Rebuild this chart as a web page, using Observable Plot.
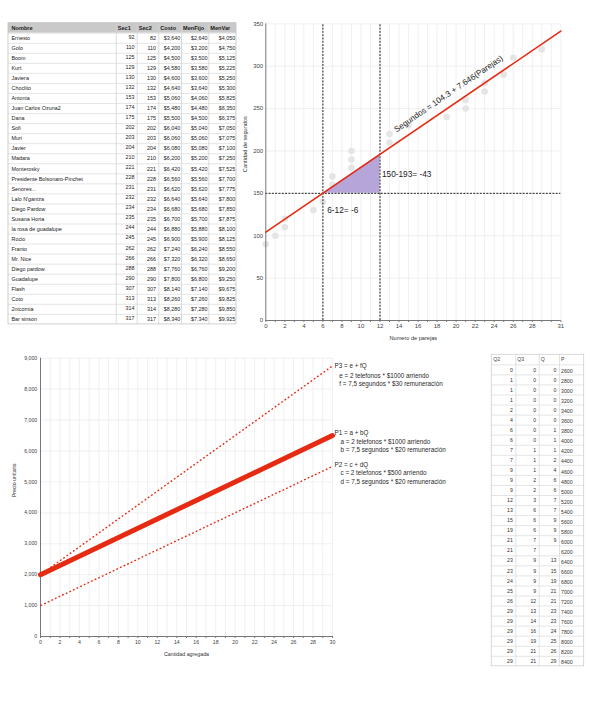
<!DOCTYPE html>
<html><head><meta charset="utf-8">
<script src="https://cdn.jsdelivr.net/npm/d3@7"></script>
<script src="https://cdn.jsdelivr.net/npm/@observablehq/plot@0.6"></script>
<style>
html,body{margin:0;padding:0;background:#fff;}
#root{position:relative;width:600px;height:708px;overflow:hidden;background:#fff;}
.panel{position:absolute;}
.panel svg{display:block;overflow:visible;max-width:none;}
</style></head>
<body><div id="root">
<div class="panel" id="tblTop" style="left:0;top:0;width:240px;height:340px"></div>
<div class="panel" id="chartTop" style="left:240px;top:0;width:360px;height:350px"></div>
<div class="panel" id="chartBottom" style="left:0;top:345px;width:490px;height:330px"></div>
<div class="panel" id="tblBottom" style="left:488px;top:345px;width:112px;height:330px"></div>
</div>
<script>
// ---------- DATA ----------
const topHeaders = ["Nombre","Sec1","Sec2","Costo","MenFijo","MenVar"];
const nombres = ["Ernesto","Golo","Boom","Kurt","Javiera","Choclito","Antonia","Juan Carlos Ozuna2","Dana","Sofi","Muri","Javier","Madara","Monterosky","Presidente Bolsonaro-Pinchet","Senores...","Lalo N'ganiza","Diego Pardow","Susana Horia","la rosa de guadalupe","Rocio","Franto","Mr. Nice","Diego pardow","Guadalupe","Flash","Coto","2nicornia","Bar sinson"];
const sec1 = [92,110,125,129,130,132,153,174,175,202,203,204,210,221,228,231,232,234,235,244,245,262,266,288,290,307,313,314,317];
const sec2 = [82,110,125,129,130,132,153,174,175,202,203,204,210,221,228,231,232,234,235,244,245,262,266,288,290,307,313,314,317];
const costo = [3640,4200,4500,4580,4600,4640,5060,5480,5500,6040,6060,6080,6200,6420,6560,6620,6640,6680,6700,6880,6900,7240,7320,7760,7800,8140,8260,8280,8340];
const menFijo = [2640,3200,3500,3580,3600,3640,4060,4480,4500,5040,5060,5080,5200,5420,5560,5620,5640,5680,5700,5880,5900,6240,6320,6760,6800,7140,7260,7280,7340];
const menVar = [4050,4750,5125,5225,5250,5300,5825,6350,6375,7050,7075,7100,7250,7525,7700,7775,7800,7850,7875,8100,8125,8550,8650,9200,9250,9675,9825,9850,9925];

const parejas  = [0,1,2,2,5,6,7,7,9,9,9,13,13,15,19,21,21,23,23,25,26,29];
const segundos = [90,100,110,120,130,140,160,170,180,190,200,210,220,230,240,250,260,270,280,290,310,320];
const regX = [0, 31];
const regY = [104.3, 341.3];
const triX = [6, 12];
const triTop = [150.2, 196];
const triBase = 150;
const guideX = [6, 12];
const guideY = [150];
const eqLabel = "Segundos = 104.3 + 7.646(Parejas)";
const diffLabels = ["150-193= -43", "6-12= -6"];

const cantidad = [0, 30];
const p1 = [2000, 6500];
const p2 = [1000, 5500];
const p3 = [2000, 8750];
const pTitles = ["P3 = e + fQ", "P1 = a + bQ", "P2 = c + dQ"];
const pDetails = [
  ["e = 2 telefonos * $1000 arriendo", "f = 7,5 segundos * $30 remuneración"],
  ["a = 2 telefonos * $1000 arriendo", "b = 7,5 segundos * $20 remuneración"],
  ["c = 2 telefonos * $500 arriendo", "d = 7,5 segundos * $20 remuneración"]
];

const botHeaders = ["Q2","Q3","Q","P"];
const q2 = [0,1,1,1,2,4,6,6,7,7,9,9,9,12,13,15,19,21,21,23,23,24,25,26,29,29,29,29,29,29];
const q3 = [0,0,0,0,0,0,0,0,1,1,1,2,2,3,6,6,6,7,7,9,9,9,9,12,13,14,16,19,21,21];
const q  = [0,0,0,0,0,0,1,1,1,2,4,6,6,7,7,9,9,9,null,13,15,19,21,21,23,23,24,25,26,29];
const pP = [2600,2800,3000,3200,3400,3600,3800,4000,4200,4400,4600,4800,5000,5200,5400,5600,5800,6000,6200,6400,6600,6800,7000,7200,7400,7600,7800,8000,8200,8400];

// ---------- STYLE ----------
const FONT = "'Liberation Sans', Arial, Helvetica, sans-serif";
const RED = "#e52b12";
const baseStyle = {fontFamily: FONT, background: "transparent", overflow: "visible"};
const money = d3.format("$,");
const thousands = d3.format(",");
const plain = d => d == null ? "" : String(d);

// ---------- TOP-LEFT TABLE ----------
{
  const E = [8, 115.7, 136.7, 158.3, 181, 208.3, 236];
  const n = nombres.length + 1;
  const top = 22.7, rh = 10.04;
  const numCols = [sec1, sec2, costo, menFijo, menVar];
  const fmts = [plain, plain, money, money, money];
  const pads = [2.7, 2.7, 1.2, 1.2, 1.2];
  const plot = Plot.plot({
    width: 240, height: 340, margin: 0,
    x: {type: "identity", axis: null},
    y: {domain: [0, n], range: [top, top + n * rh], axis: null},
    style: baseStyle,
    marks: [
      Plot.rect([0], {x1: E[0], x2: E[6], y1: 0, y2: 1, fill: "#c9c9c9"}),
      Plot.ruleY(d3.range(1, n), {x1: E[0], x2: E[6], stroke: "#dedede", strokeWidth: 0.8}),
      Plot.ruleX(E.slice(1, 6), {y1: 0, y2: n, stroke: "#d4d4d4", strokeWidth: 0.8}),
      Plot.rect([0], {x1: E[0], x2: E[6], y1: 0, y2: n, fill: "none", stroke: "#c4c4c4", strokeWidth: 0.8}),
      Plot.text(topHeaders, {x: (d, i) => E[i] + (i === 0 ? 3 : 1.5), y: 0.5, text: d => d, textAnchor: "start", fontWeight: "bold", fontSize: 5.6, fill: "#1a1a1a"}),
      Plot.text(nombres, {x: E[0] + 3, y: (d, i) => i + 1.5, text: d => d, textAnchor: "start", fontSize: 5.4, fill: "#222"}),
      ...numCols.map((arr, j) => Plot.text(arr, {
        x: E[j + 2] - pads[j], y: (d, i) => i + 1.5, dy: j === 0 ? -1.3 : 0,
        text: fmts[j], textAnchor: "end", fontSize: 5.4, fill: "#222"
      }))
    ]
  });
  document.getElementById("tblTop").append(plot);
}

// ---------- TOP-RIGHT SCATTER ----------
{
  const pts = parejas.map((x, i) => ({x, y: segundos[i]}));
  const reg = regX.map((x, i) => ({x, y: regY[i]}));
  const tri = triX.map((x, i) => ({x, y: triTop[i]}));
  const plot = Plot.plot({
    width: 360, height: 350,
    marginLeft: 25.3, marginRight: 39.7, marginTop: 23.3, marginBottom: 30,
    x: {domain: [0, 31]},
    y: {domain: [0, 350]},
    style: baseStyle,
    marks: [
      Plot.gridX({ticks: d3.range(1, 32), stroke: "#ececec", strokeOpacity: 1, strokeWidth: 0.8}),
      Plot.gridY({ticks: d3.range(50, 351, 50), stroke: "#ececec", strokeOpacity: 1, strokeWidth: 0.8}),
      Plot.dot(pts, {x: "x", y: "y", r: 3.3, fill: "#e5e5e5"}),
      Plot.areaY(tri, {x: "x", y1: triBase, y2: "y", fill: "#b6a5d8", fillOpacity: 1}),
      Plot.ruleX(guideX, {y1: 0, y2: 350, stroke: "#222", strokeWidth: 1, strokeDasharray: "2,1.3"}),
      Plot.ruleY(guideY, {x1: 0, x2: 31, stroke: "#222", strokeWidth: 1, strokeDasharray: "2,1.3"}),
      Plot.ruleX([0], {stroke: "#777"}),
      Plot.ruleY([0], {stroke: "#777"}),
      Plot.line(reg, {x: "x", y: "y", stroke: RED, strokeWidth: 1.6}),
      Plot.text([eqLabel], {x: 19.2, y: 267.5, rotate: -34.3, fontSize: 8.2, fill: "#222"}),
      Plot.text([diffLabels[0]], {x: 12.2, y: 172, textAnchor: "start", fontSize: 8.3, fill: "#222"}),
      Plot.text([diffLabels[1]], {x: 6.45, y: 130.5, textAnchor: "start", fontSize: 8.3, fill: "#222"}),
      Plot.axisY({ticks: d3.range(0, 351, 50), tickSize: 0, tickPadding: 2.6, fontSize: 6, fill: "#444", label: null}),
      Plot.axisX({ticks: d3.range(0, 32), tickFormat: d => ((d <= 28 && d % 2 === 0) || d === 31) ? d : "", tickSize: 2, tickPadding: 0.8, fontSize: 6, fill: "#444", stroke: "#777", label: null}),
      Plot.text(["Numero de parejas"], {frameAnchor: "bottom", dy: 19.5, fontSize: 5.6, fill: "#333"}),
      Plot.text(["Cantidad de segundos"], {frameAnchor: "left", dx: -21, rotate: -90, fontSize: 5.6, fill: "#333"})
    ]
  });
  document.getElementById("chartTop").append(plot);
}

// ---------- BOTTOM-LEFT PRICE CHART ----------
{
  const mk = arr => cantidad.map((x, i) => ({x, y: arr[i]}));
  const series = [mk(p3), mk(p1), mk(p2)];
  const offs = [
    {dy: [-0.4, 9.6, 18.3], dx: [2, 6.7, 6.7]},
    {dy: [-2.3, 6, 14.7], dx: [2, 8, 8]},
    {dy: [-1.7, 7, 15.7], dx: [2, 8, 8]}
  ];
  const annMarks = [];
  series.forEach((s, k) => {
    const end = s[s.length - 1];
    const lines = [pTitles[k], ...pDetails[k]];
    lines.forEach((t, j) => {
      annMarks.push(Plot.text([t], {x: end.x, y: end.y, dx: offs[k].dx[j], dy: offs[k].dy[j], textAnchor: "start", fontSize: 6.3, fill: "#2a2a2a"}));
    });
  });
  const plot = Plot.plot({
    width: 490, height: 330,
    marginLeft: 40, marginRight: 158, marginTop: 12.7, marginBottom: 39,
    x: {domain: [0, 30]},
    y: {domain: [0, 9000]},
    style: baseStyle,
    marks: [
      Plot.gridX({ticks: d3.range(1, 31), stroke: "#ececec", strokeOpacity: 1, strokeWidth: 0.8}),
      Plot.gridY({ticks: d3.range(1000, 9001, 1000), stroke: "#ececec", strokeOpacity: 1, strokeWidth: 0.8}),
      Plot.ruleX([0], {stroke: "#777"}),
      Plot.ruleY([0], {stroke: "#777"}),
      Plot.line(series[0], {x: "x", y: "y", stroke: RED, strokeWidth: 1.4, strokeDasharray: "1.8,2.2", strokeLinecap: "butt"}),
      Plot.line(series[2], {x: "x", y: "y", stroke: RED, strokeWidth: 1.4, strokeDasharray: "1.8,2.2", strokeLinecap: "butt"}),
      Plot.line(series[1], {x: "x", y: "y", stroke: RED, strokeWidth: 5}),
      ...annMarks,
      Plot.axisY({ticks: d3.range(0, 9001, 1000), tickFormat: thousands, tickSize: 0, tickPadding: 3.3, fontSize: 5.2, fill: "#444", label: null}),
      Plot.axisX({ticks: d3.range(0, 31), tickFormat: d => d % 2 === 0 ? d : "", tickSize: 2, tickPadding: 2, fontSize: 5.2, fill: "#444", stroke: "#777", label: null}),
      Plot.text(["Cantidad agregada"], {frameAnchor: "bottom", dy: 19.5, fontSize: 5.3, fill: "#333"}),
      Plot.text(["Precio unitario"], {frameAnchor: "left", dx: -26, rotate: -90, fontSize: 5.3, fill: "#333"})
    ]
  });
  document.getElementById("chartBottom").append(plot);
}

// ---------- BOTTOM-RIGHT TABLE ----------
{
  const E = [3.3, 27.3, 50.7, 71, 95.7];
  const n = pP.length + 1;
  const top = 9.3, rh = 10.05;
  const rightCols = [q2, q3, q];
  const plot = Plot.plot({
    width: 112, height: 330, margin: 0,
    x: {type: "identity", axis: null},
    y: {domain: [0, n], range: [top, top + n * rh], axis: null},
    style: baseStyle,
    marks: [
      Plot.ruleY(d3.range(1, n), {x1: E[0], x2: E[4], stroke: "#dedede", strokeWidth: 0.8}),
      Plot.ruleX(E.slice(1, 4), {y1: 0, y2: n, stroke: "#dadada", strokeWidth: 0.8}),
      Plot.rect([0], {x1: E[0], x2: E[4], y1: 0, y2: n, fill: "none", stroke: "#cfcfcf", strokeWidth: 0.8}),
      Plot.text(botHeaders, {x: (d, i) => E[i] + 1.5, y: 0.5, text: d => d, textAnchor: "start", fontSize: 5.2, fill: "#444"}),
      ...rightCols.map((arr, j) => Plot.text(arr, {
        x: E[j + 1] - 3, y: (d, i) => i + 1.5, text: plain,
        textAnchor: "end", fontSize: 5.2, fill: "#333"
      })),
      Plot.text(pP, {x: E[3] + 1.5, y: (d, i) => i + 1.5, dy: 1.5, text: plain, textAnchor: "start", fontSize: 5.2, fill: "#333"})
    ]
  });
  document.getElementById("tblBottom").append(plot);
}
</script>
</body></html>
